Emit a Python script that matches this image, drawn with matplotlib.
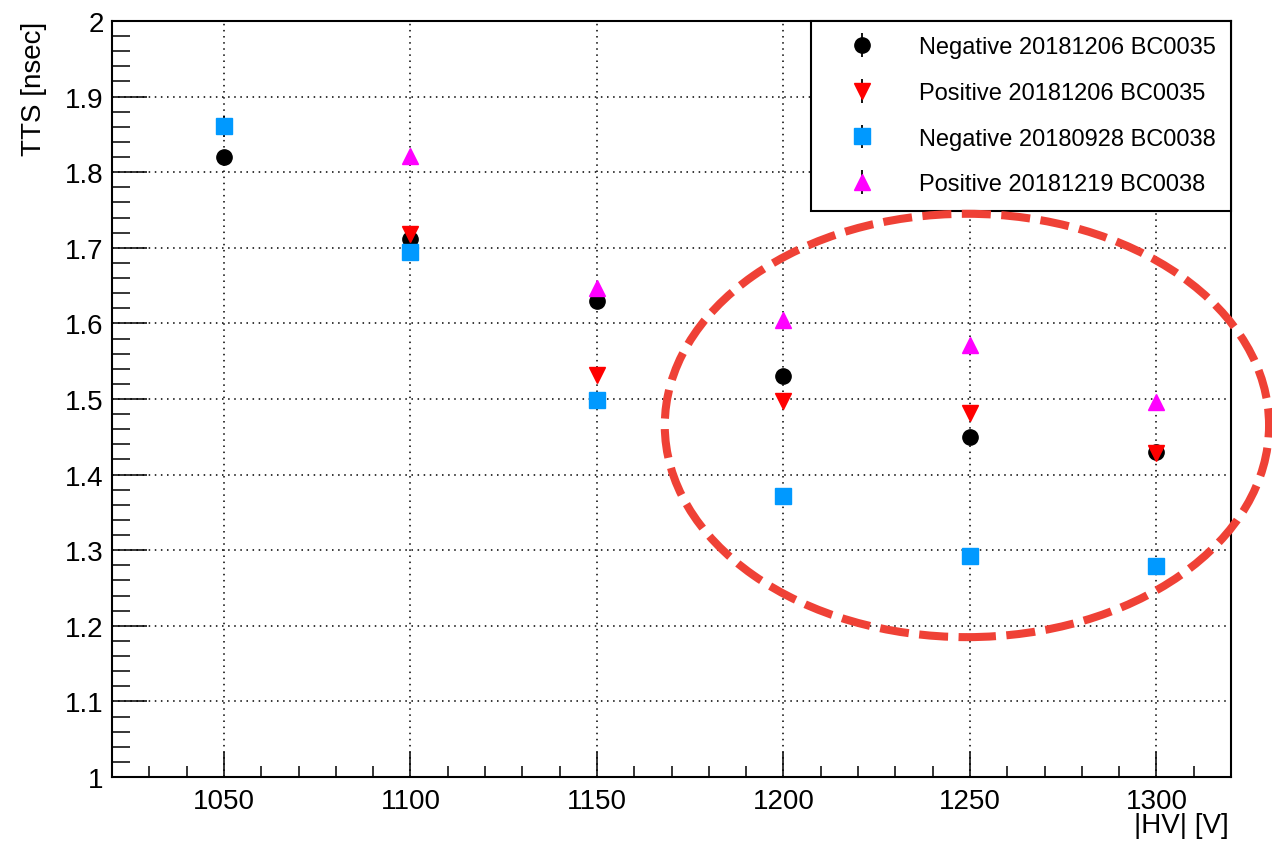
import matplotlib
matplotlib.use('Agg')
import matplotlib.pyplot as plt
from matplotlib.patches import Ellipse
from matplotlib.ticker import MultipleLocator

plt.rcParams['font.family'] = ['Liberation Sans', 'DejaVu Sans']

hv = [1050, 1100, 1150, 1200, 1250, 1300]
hv_pos = [1100, 1150, 1200, 1250, 1300]

# TTS values for each PMT / polarity
neg_bc0035 = [1.820, 1.712, 1.630, 1.530, 1.450, 1.430]
pos_bc0035 = [1.718, 1.532, 1.498, 1.481, 1.429]
neg_bc0038 = [1.861, 1.694, 1.499, 1.372, 1.292, 1.279]
pos_bc0038 = [1.822, 1.647, 1.604, 1.571, 1.496]

err_neg_bc0035 = [0.010, 0.008, 0.008, 0.007, 0.007, 0.008]
err_pos_bc0035 = [0.008, 0.007, 0.007, 0.007, 0.007]
err_neg_bc0038 = [0.014, 0.008, 0.007, 0.007, 0.007, 0.007]
err_pos_bc0038 = [0.007, 0.007, 0.007, 0.007, 0.007]

labels = ['Negative 20181206 BC0035', 'Positive 20181206 BC0035',
          'Negative 20180928 BC0038', 'Positive 20181219 BC0038']

fig = plt.figure(figsize=(12.72, 8.45), dpi=100)
ax = fig.add_axes([112/1272, 67/845, 1119/1272, 756/845])

ax.set_xlim(1020, 1320)
ax.set_ylim(1.0, 2.0)

ekw = dict(ecolor='black', elinewidth=1.3, capsize=0,
           linestyle='none', zorder=3)
ax.errorbar(hv, neg_bc0035, yerr=err_neg_bc0035, marker='o', ms=11,
            color='black', mec='black', label=labels[0], **ekw)
ax.errorbar(hv_pos, pos_bc0035, yerr=err_pos_bc0035, marker='v', ms=12,
            color='#ff0000', mec='#ff0000', label=labels[1], **ekw)
ax.errorbar(hv, neg_bc0038, yerr=err_neg_bc0038, marker='s', ms=12,
            color='#0099ff', mec='#0099ff', label=labels[2], **ekw)
ax.errorbar(hv_pos, pos_bc0038, yerr=err_pos_bc0038, marker='^', ms=12,
            color='#ff00ff', mec='#ff00ff', label=labels[3], **ekw)

# axis styling, ROOT-like inward ticks
ax.xaxis.set_major_locator(MultipleLocator(50))
ax.xaxis.set_minor_locator(MultipleLocator(10))
ax.yaxis.set_major_locator(MultipleLocator(0.1))
ax.yaxis.set_minor_locator(MultipleLocator(0.02))
ax.yaxis.set_major_formatter(plt.FuncFormatter(lambda v, p: ('%g' % round(v, 2))))
ax.tick_params(axis='x', which='major', direction='in', length=18, width=1.1,
               labelsize=20, pad=8)
ax.tick_params(axis='x', which='minor', direction='in', length=8, width=1.1)
ax.tick_params(axis='y', which='major', direction='in', length=25, width=1.1,
               labelsize=20, pad=6)
ax.tick_params(axis='y', which='minor', direction='in', length=13, width=1.1)
for s in ax.spines.values():
    s.set_linewidth(1.5)
ax.grid(True, which='major', color='black', linestyle=(0, (1, 3)), linewidth=1.1)
ax.set_axisbelow(True)

fig.text(34/1272, 1 - 22/845, 'TTS [nsec]', rotation=90, ha='center', va='top',
         fontsize=20)
fig.text(1229/1272, 1 - 813/845, '|HV| [V]', ha='right', va='top', fontsize=20)

leg = ax.legend(loc='upper right', bbox_to_anchor=(1, 1), borderaxespad=0,
                fontsize=17, frameon=True, fancybox=False, framealpha=1,
                edgecolor='black', borderpad=0.65, handlelength=3,
                handletextpad=0.9, labelspacing=1.0)
leg.get_frame().set_linewidth(1.5)
leg.set_zorder(5)

# highlight of the high-voltage region
ring = Ellipse((1249.2, 1.465), 162, 0.56, fill=False, edgecolor='#ef4136',
               linewidth=5.8, linestyle=(0, (3.6, 1.3)), clip_on=False, zorder=6)
ax.add_patch(ring)

fig.savefig('out.png', dpi=100)
